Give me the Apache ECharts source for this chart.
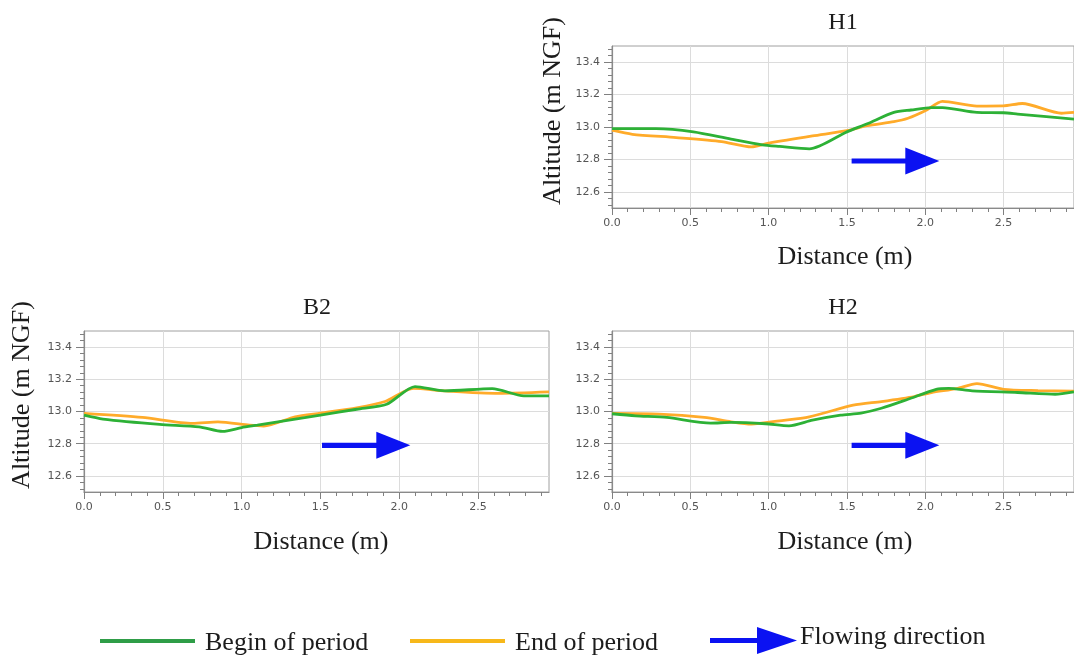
<!DOCTYPE html>
<html>
<head>
<meta charset="utf-8">
<script src="https://cdn.jsdelivr.net/npm/echarts@6/dist/echarts.min.js"></script>
<style>
  html, body { margin: 0; padding: 0; background: #fff; }
  #chart { width: 1074px; height: 657px; }
</style>
</head>
<body>
<div id="chart"></div>
<script>
// Bed profiles along three cross-sections: altitude (m NGF) vs distance (m)
const panelNames = ['H1', 'B2', 'H2'];

// Tick positions
const xMajorTicks = [0, 0.5, 1.0, 1.5, 2.0, 2.5];
const xMinorTicks = [0.1, 0.2, 0.3, 0.4, 0.6, 0.7, 0.8, 0.9, 1.1, 1.2, 1.3, 1.4,
  1.6, 1.7, 1.8, 1.9, 2.1, 2.2, 2.3, 2.4, 2.6, 2.7, 2.8, 2.9];
const yMajorTicks = [12.6, 12.8, 13.0, 13.2, 13.4];
const yMinorTicks = [12.52, 12.56, 12.64, 12.68, 12.72, 12.76, 12.84, 12.88, 12.92, 12.96,
  13.04, 13.08, 13.12, 13.16, 13.24, 13.28, 13.32, 13.36, 13.44, 13.48];

// H1 profile
const h1Begin = [[0, 12.99], [0.28, 12.99], [0.52, 12.97], [0.76, 12.925], [0.96, 12.89],
  [1.07, 12.88], [1.26, 12.865], [1.5, 12.97], [1.63, 13.02], [1.8, 13.09], [1.91, 13.105],
  [2.04, 13.12], [2.11, 13.12], [2.33, 13.09], [2.5, 13.088], [2.59, 13.08], [2.95, 13.048]];
const h1End = [[0, 12.98], [0.13, 12.955], [0.41, 12.935], [0.7, 12.91], [0.89, 12.877],
  [1.0, 12.9], [1.28, 12.945], [1.5, 12.977], [1.63, 13.008], [1.8, 13.033], [1.89, 13.054],
  [2.0, 13.1], [2.11, 13.158], [2.33, 13.129], [2.5, 13.13], [2.62, 13.145], [2.87, 13.085], [2.95, 13.09]];

// B2 profile
const b2Begin = [[0, 12.977], [0.12, 12.953], [0.48, 12.92], [0.73, 12.905], [0.88, 12.876],
  [1.0, 12.9], [1.1, 12.915], [1.5, 12.977], [1.73, 13.014], [1.92, 13.045], [2.1, 13.155],
  [2.29, 13.128], [2.59, 13.142], [2.79, 13.097], [2.95, 13.097]];
const b2End = [[0, 12.988], [0.37, 12.963], [0.69, 12.926], [0.85, 12.936], [1.05, 12.915],
  [1.14, 12.91], [1.34, 12.967], [1.5, 12.99], [1.73, 13.023], [1.91, 13.062], [2.09, 13.144],
  [2.29, 13.128], [2.63, 13.113], [2.95, 13.122]];

// H2 profile
const h2Begin = [[0, 12.986], [0.15, 12.973], [0.35, 12.963], [0.63, 12.928], [0.76, 12.932],
  [0.98, 12.924], [1.13, 12.911], [1.28, 12.946], [1.46, 12.977], [1.59, 12.99], [1.72, 13.02],
  [1.89, 13.076], [2.07, 13.138], [2.15, 13.144], [2.3, 13.128], [2.59, 13.118], [2.83, 13.107], [2.95, 13.122]];
const h2End = [[0, 12.988], [0.3, 12.984], [0.59, 12.963], [0.76, 12.936], [0.89, 12.922],
  [1.07, 12.942], [1.26, 12.967], [1.54, 13.039], [1.72, 13.062], [1.93, 13.093], [2.04, 13.118],
  [2.2, 13.142], [2.33, 13.173], [2.5, 13.138], [2.72, 13.13], [2.95, 13.126]];

// Flow direction arrows: [x start, altitude, x tip]
const h1Arrow = [1.53, 12.79, 2.09];
const b2Arrow = [1.51, 12.79, 2.07];
const h2Arrow = [1.53, 12.79, 2.09];

const legendLabels = ['Begin of period', 'End of period', 'Flowing direction'];

const beginSets = [h1Begin, b2Begin, h2Begin];
const endSets = [h1End, b2End, h2End];
const arrowSets = [h1Arrow, b2Arrow, h2Arrow];

const GREEN = '#2db136';
const ORANGE = '#ffab2a';
const BLUE = '#0b12f2';
const SERIF = '"Liberation Serif", "DejaVu Serif", serif';
const TEXT = '#1c1c1c';

const X_MIN = 0, X_MAX = 2.95, Y_MIN = 12.5, Y_MAX = 13.5;

const grids = [
  { left: 612, top: 46, right: 0, height: 162 },
  { left: 84, top: 331, width: 465, height: 161 },
  { left: 612, top: 331, right: 0, height: 161 }
];

const chart = echarts.init(document.getElementById('chart'), null, { renderer: 'canvas' });

const gridOpts = grids.map(g => Object.assign({
  show: true, borderColor: '#a0a0a0', borderWidth: 1, backgroundColor: '#fff'
}, g));

const xAxes = [], yAxes = [];
grids.forEach((g, i) => {
  xAxes.push({
    type: 'value', gridIndex: i, position: 'bottom', min: X_MIN, max: X_MAX,
    axisLine: { show: true, onZero: false, lineStyle: { color: '#8a8a8a', width: 1.2 } },
    axisTick: { show: true, length: 7, customValues: xMajorTicks, lineStyle: { color: '#808080', width: 1 } },
    axisLabel: {
      customValues: xMajorTicks, margin: 10, fontSize: 11, color: '#555',
      fontFamily: 'DejaVu Sans', formatter: v => v.toFixed(1)
    },
    splitLine: { show: false }
  });
  xAxes.push({
    type: 'value', gridIndex: i, position: 'bottom', min: X_MIN, max: X_MAX,
    axisLine: { show: false, onZero: false },
    axisTick: { show: true, length: 4, customValues: xMinorTicks, lineStyle: { color: '#808080', width: 1 } },
    axisLabel: { show: false },
    splitLine: { show: false }
  });
  yAxes.push({
    type: 'value', gridIndex: i, position: 'left', min: Y_MIN, max: Y_MAX,
    axisLine: { show: true, onZero: false, lineStyle: { color: '#8a8a8a', width: 1.2 } },
    axisTick: { show: true, length: 8, customValues: yMajorTicks, lineStyle: { color: '#808080', width: 1 } },
    axisLabel: {
      customValues: yMajorTicks, margin: 12, fontSize: 11, color: '#555',
      fontFamily: 'DejaVu Sans', formatter: v => v.toFixed(1)
    },
    splitLine: { show: false }
  });
  yAxes.push({
    type: 'value', gridIndex: i, position: 'left', min: Y_MIN, max: Y_MAX,
    axisLine: { show: false, onZero: false },
    axisTick: { show: true, length: 4, customValues: yMinorTicks, lineStyle: { color: '#808080', width: 1 } },
    axisLabel: { show: false },
    splitLine: { show: false }
  });
});

function renderArrow(params, api) {
  const p0 = api.coord([api.value(0), api.value(1)]);
  const p1 = api.coord([api.value(2), api.value(1)]);
  const headLen = 34, headHalf = 13.5, shaftHalf = 2.6;
  const bx = p1[0] - headLen;
  return {
    type: 'group',
    children: [
      { type: 'rect', shape: { x: p0[0], y: p0[1] - shaftHalf, width: bx - p0[0] + 2, height: shaftHalf * 2 },
        style: { fill: BLUE } },
      { type: 'polygon', shape: { points: [[bx, p1[1] - headHalf], [p1[0], p1[1]], [bx, p1[1] + headHalf]] },
        style: { fill: BLUE } }
    ]
  };
}

const series = [];
grids.forEach((g, i) => {
  // light reference grid
  series.push({
    type: 'line', xAxisIndex: i * 2, yAxisIndex: i * 2, data: [], z: 0, silent: true,
    markLine: {
      z: 0, silent: true, symbol: 'none', animation: false, label: { show: false },
      lineStyle: { color: '#dcdcdc', width: 1, type: 'solid' },
      data: xMajorTicks.filter(v => v > 0).map(v => ({ xAxis: v }))
        .concat(yMajorTicks.map(v => ({ yAxis: v })))
    }
  });
  series.push({
    name: legendLabels[0], type: 'line', xAxisIndex: i * 2, yAxisIndex: i * 2,
    data: beginSets[i], showSymbol: false, smooth: 0.25, z: 3,
    lineStyle: { color: GREEN, width: 2.8 }, itemStyle: { color: GREEN }
  });
  series.push({
    name: legendLabels[1], type: 'line', xAxisIndex: i * 2, yAxisIndex: i * 2,
    data: endSets[i], showSymbol: false, smooth: 0.25, z: 2,
    lineStyle: { color: ORANGE, width: 2.8 }, itemStyle: { color: ORANGE }
  });
  series.push({
    name: legendLabels[2], type: 'custom', xAxisIndex: i * 2, yAxisIndex: i * 2,
    data: [arrowSets[i]], renderItem: renderArrow, z: 10,
    encode: { x: [0, 2], y: 1 }
  });
});

const titles = [
  { text: panelNames[0], left: 843, top: 11 },
  { text: panelNames[1], left: 317, top: 296 },
  { text: panelNames[2], left: 843, top: 296 }
].map(t => Object.assign(t, {
  textAlign: 'center', padding: 0,
  textStyle: { fontFamily: SERIF, fontSize: 24, fontWeight: 'normal', color: TEXT }
}));

function axisText(text, x, y, vertical) {
  return {
    type: 'text', x: x, y: y, rotation: vertical ? Math.PI / 2 : 0, z: 10,
    style: { text: text, font: '26px ' + SERIF, fill: TEXT, align: 'center', verticalAlign: 'middle' }
  };
}

const graphics = [
  axisText('Distance (m)', 845, 257, false),
  axisText('Distance (m)', 321, 542, false),
  axisText('Distance (m)', 845, 542, false),
  axisText('Altitude (m NGF)', 553, 111, true),
  axisText('Altitude (m NGF)', 22, 395, true),
  // legend
  { type: 'line', shape: { x1: 100, y1: 641, x2: 195, y2: 641 }, style: { stroke: '#2f9d47', lineWidth: 4 } },
  { type: 'text', x: 205, y: 643, style: { text: legendLabels[0], font: '26px ' + SERIF, fill: TEXT, verticalAlign: 'middle' } },
  { type: 'line', shape: { x1: 410, y1: 641, x2: 505, y2: 641 }, style: { stroke: '#f7b81a', lineWidth: 4 } },
  { type: 'text', x: 515, y: 643, style: { text: legendLabels[1], font: '26px ' + SERIF, fill: TEXT, verticalAlign: 'middle' } },
  { type: 'rect', shape: { x: 710, y: 638, width: 50, height: 5 }, style: { fill: BLUE } },
  { type: 'polygon', shape: { points: [[757, 627], [797, 640.5], [757, 654]] }, style: { fill: BLUE } },
  { type: 'text', x: 800, y: 637, style: { text: legendLabels[2], font: '26px ' + SERIF, fill: TEXT, verticalAlign: 'middle' } }
];

chart.setOption({
  animation: false,
  backgroundColor: '#fff',
  title: titles,
  grid: gridOpts,
  xAxis: xAxes,
  yAxis: yAxes,
  series: series,
  graphic: graphics
});
</script>
</body>
</html>
